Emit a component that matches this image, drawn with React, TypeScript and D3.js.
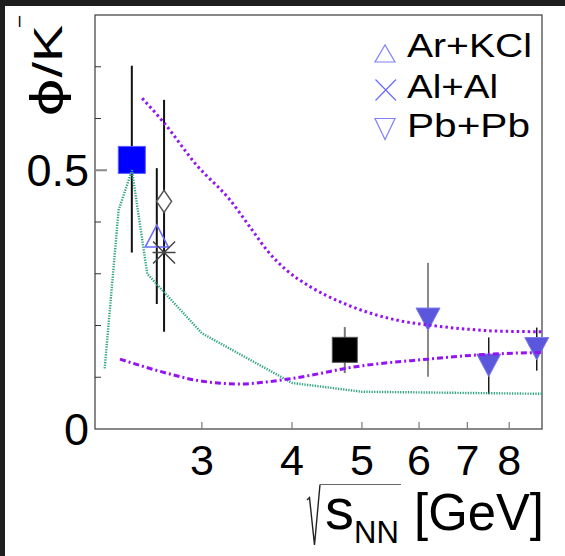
import React from "react";
import * as d3 from "d3";

const W = 565;
const H = 556;
const FONT = "'Liberation Sans', Arial, sans-serif";

// axis ticks
const xTicks = [3, 4, 5, 6, 7, 8];
const yMinorTicks = [0.1, 0.2, 0.3, 0.4, 0.6, 0.7];
const yMajorTicks = [0.5];
const yLabels = [0, 0.5];

// data points (sqrt(sNN), phi/K-, error low, error high)
const auAu = [{ x: 2.399, y: 0.52, lo: 0.341, hi: 0.702 }];
const arKCl = [{ x: 2.598, y: 0.373, lo: 0.2415, hi: 0.504 }];
const alAlStar = [{ x: 2.659, y: 0.341, lo: 0.188, hi: 0.636 }];
const alAlDiamond = [{ x: 2.659, y: 0.44 }];
const niNi = [{ x: 4.734, y: 0.153, lo: 0.108, hi: 0.197 }];
const pbPb = [
  { x: 6.174, y: 0.212, lo: 0.101, hi: 0.321 },
  { x: 7.494, y: 0.123, lo: 0.0676, hi: 0.177 },
  { x: 8.735, y: 0.155, lo: 0.1127, hi: 0.196 },
];
const pbBarColors = ["#8a8a8a", "#1a1a1a", "#1a1a1a"];

// model curves
const greenCurve = [
  [2.2, 0.117], [2.3, 0.423], [2.4, 0.5], [2.52, 0.3], [3.0, 0.185],
  [4.0, 0.089], [5.0, 0.072], [8.88, 0.068],
];
const violetDotted = [
  [2.48, 0.639], [2.65, 0.594], [2.95, 0.51], [3.28, 0.443], [3.52, 0.385],
  [3.69, 0.346], [3.93, 0.307], [4.24, 0.275], [4.66, 0.246], [5.08, 0.226],
  [5.65, 0.209], [6.17, 0.201], [6.99, 0.193], [7.77, 0.189], [8.88, 0.188],
];
const violetDashDot = [
  [2.31, 0.135], [2.68, 0.108], [2.98, 0.093], [3.39, 0.087], [3.69, 0.091],
  [3.93, 0.096], [4.33, 0.106], [4.74, 0.117], [6.17, 0.135], [7.21, 0.143],
  [7.94, 0.146], [8.88, 0.148],
];

const legendLabels = ["Ar+KCl", "Al+Al", "Pb+Pb"];

const triPath = (cx: number, cy: number, w: number, h: number, down: boolean) =>
  down
    ? `M${cx - w / 2},${cy - h / 2}L${cx + w / 2},${cy - h / 2}L${cx},${cy + h / 2}Z`
    : `M${cx - w / 2},${cy + h / 2}L${cx + w / 2},${cy + h / 2}L${cx},${cy - h / 2}Z`;

export default function App() {
  const x = d3.scaleLog().domain([2.133, 8.883]).range([95, 542]);
  const y = d3.scaleLinear().domain([0, 0.8]).range([429, 15]);

  const line = d3
    .line<number[]>()
    .x((d) => x(d[0]))
    .y((d) => y(d[1]));
  const smooth = d3
    .line<number[]>()
    .x((d) => x(d[0]))
    .y((d) => y(d[1]))
    .curve(d3.curveMonotoneX);

  const [x0, x1] = x.range();
  const [y0, y1] = y.range();

  const bar = (d: any, color: string, width: number, key: string) => (
    <line
      key={key}
      x1={x(d.x)}
      x2={x(d.x)}
      y1={y(d.lo)}
      y2={y(d.hi)}
      stroke={color}
      strokeWidth={width}
    />
  );

  return (
    <svg
      width={W}
      height={H}
      style={{ position: "absolute", left: 0, top: 0, background: "#fff" }}
      fontFamily={FONT}
    >
      <rect x={0} y={0} width={W} height={H} fill="#fff" />
      <rect x={0} y={0} width={W} height={6} fill="#1e1e1e" />
      <rect x={0} y={0} width={5} height={H} fill="#1e1e1e" />

      {/* frame */}
      <rect
        x={x0}
        y={y1}
        width={x1 - x0}
        height={y0 - y1}
        fill="none"
        stroke="#3a3a3a"
        strokeWidth={1.2}
      />

      {/* y ticks */}
      {yMinorTicks.map((t) => (
        <line key={t} x1={x0} x2={x0 + 6} y1={y(t)} y2={y(t)} stroke="#333" strokeWidth={1} />
      ))}
      {yMajorTicks.map((t) => (
        <line key={t} x1={x0} x2={x0 + 12} y1={y(t)} y2={y(t)} stroke="#8a8a8a" strokeWidth={2} />
      ))}
      {yLabels.map((t) => (
        <text key={t} x={89} y={y(t) + 16} fontSize={45} textAnchor="end" fill="#000">
          {t === 0 ? "0" : "0.5"}
        </text>
      ))}

      {/* x ticks */}
      {xTicks.map((t) => (
        <g key={t}>
          <line x1={x(t)} x2={x(t)} y1={y0} y2={y0 - 7} stroke="#777" strokeWidth={1.2} />
          <text x={x(t)} y={475} fontSize={43} textAnchor="middle" fill="#000">
            {t}
          </text>
        </g>
      ))}

      {/* x title */}
      <path d="M307,500 L309.5,497.5 L314.5,545 L320,484.5" fill="none" stroke="#222" strokeWidth={1.4} />
      <line x1={320} x2={401} y1={484.5} y2={484.5} stroke="#666" strokeWidth={1.2} />
      <text x={325} y={529} fontSize={58} fill="#000">s</text>
      <text x={354} y={542.5} fontSize={31} fill="#000">NN</text>
      <text x={414} y={530} fontSize={52} fill="#000" textLength={130} lengthAdjust="spacingAndGlyphs">
        [GeV]
      </text>

      {/* y title */}
      <text
        transform="translate(62,117) rotate(-90)"
        fontSize={40}
        fill="#000"
        textLength={92}
        lengthAdjust="spacingAndGlyphs"
      >
        <tspan fontSize={43} fontFamily="'DejaVu Sans', sans-serif">ϕ</tspan>/K
      </text>
      <text transform="translate(25,27) rotate(-90)" fontSize={20} fill="#000">
        –
      </text>

      {/* error bars */}
      {auAu.map((d, i) => bar(d, "#111", 2, "au" + i))}
      {arKCl.map((d, i) => bar(d, "#111", 2, "ar" + i))}
      {alAlStar.map((d, i) => bar(d, "#111", 2, "al" + i))}
      {niNi.map((d, i) => bar(d, "#777", 2, "ni" + i))}
      {pbPb.map((d, i) => bar(d, pbBarColors[i], i === 0 ? 2 : 1.5, "pb" + i))}

      {/* markers */}
      {auAu.map((d, i) => (
        <rect
          key={i}
          x={x(d.x) - 13.5}
          y={y(d.y) - 13.5}
          width={27}
          height={27}
          fill="#0000ff"
          stroke="#5a5aff"
          strokeWidth={1}
        />
      ))}
      {arKCl.map((d, i) => (
        <path key={i} d={triPath(x(d.x), y(d.y), 23, 22, false)} fill="none" stroke="#6a6aff" strokeWidth={1.6} />
      ))}
      {alAlDiamond.map((d, i) => {
        const cx = x(d.x);
        const cy = y(d.y);
        return (
          <path
            key={i}
            d={`M${cx},${cy - 11}L${cx + 7.5},${cy}L${cx},${cy + 11}L${cx - 7.5},${cy}Z`}
            fill="#fff"
            stroke="#555"
            strokeWidth={1.5}
          />
        );
      })}
      {alAlStar.map((d, i) => {
        const cx = x(d.x);
        const cy = y(d.y);
        const r = 11.5;
        const q = 11;
        return (
          <path
            key={i}
            d={`M${cx - r},${cy}L${cx + r},${cy}M${cx - q},${cy - q}L${cx + q},${cy + q}M${cx - q},${cy + q}L${cx + q},${cy - q}`}
            stroke="#444"
            strokeWidth={1.5}
          />
        );
      })}
      {niNi.map((d, i) => (
        <rect
          key={i}
          x={x(d.x) - 12.5}
          y={y(d.y) - 12.5}
          width={25}
          height={25}
          fill="#000"
          stroke="#555"
          strokeWidth={1}
        />
      ))}
      {pbPb.map((d, i) => (
        <path key={i} d={triPath(x(d.x), y(d.y), 24, 22.5, true)} fill="#5b57dc" stroke="#7f7cf0" strokeWidth={1} />
      ))}

      {/* model curves */}
      <path
        d={line(greenCurve as any) || ""}
        fill="none"
        stroke="#2fa57f"
        strokeWidth={2.4}
        strokeDasharray="1.3 1.3"
      />
      <path
        d={smooth(violetDotted as any) || ""}
        fill="none"
        stroke="#9413f5"
        strokeWidth={3}
        strokeDasharray="2.5 3"
      />
      <path
        d={smooth(violetDashDot as any) || ""}
        fill="none"
        stroke="#9413f5"
        strokeWidth={3}
        strokeDasharray="6 3 2 3"
      />

      {/* legend */}
      <path d={triPath(385, 53.5, 20, 17, false)} fill="none" stroke="#8080ff" strokeWidth={1.2} />
      <path d="M375.5,79.5L396,100.5M375.5,100.5L396,79.5" stroke="#6a6aff" strokeWidth={1.2} />
      <path d={triPath(385, 129, 20, 21, true)} fill="none" stroke="#8080ff" strokeWidth={1.2} />
      {legendLabels.map((t, i) => (
        <text
          key={t}
          x={407}
          y={[57, 97.5, 137][i]}
          fontSize={34}
          fill="#000"
          textLength={[125, 91, 123][i]}
          lengthAdjust="spacingAndGlyphs"
        >
          {t}
        </text>
      ))}
    </svg>
  );
}
